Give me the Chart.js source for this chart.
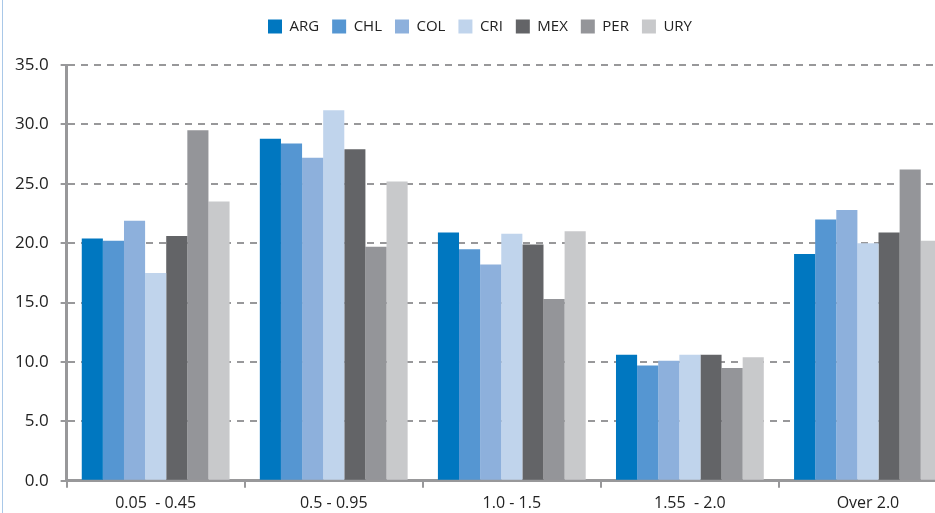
<!DOCTYPE html>
<html>
<head>
<meta charset="utf-8">
<script src="https://cdn.jsdelivr.net/npm/chart.js@4.4.1/dist/chart.umd.min.js"></script>
<style>
  html, body { margin: 0; padding: 0; background: #fff; overflow: hidden; }
  #wrap { position: relative; width: 960px; height: 519px; }
  #frame { position: absolute; left: 2px; top: 0; width: 1px; height: 519px; background: #a9c8e8; }
</style>
</head>
<body>
<div id="wrap">
  <div id="frame"></div>
  <canvas id="chart"></canvas>
</div>
<script>
// Categorías (rangos) y series por país
const categorias = ['0.05  - 0.45', '0.5 - 0.95', '1.0 - 1.5', '1.55  - 2.0', 'Over 2.0'];
const paises = ['ARG', 'CHL', 'COL', 'CRI', 'MEX', 'PER', 'URY'];
const colores = ['#0077c0', '#5596d2', '#8db0dc', '#c0d4ec', '#636467', '#949599', '#c8c9cb'];

const ARG = [20.4, 28.8, 20.9, 10.6, 19.1];
const CHL = [20.2, 28.4, 19.5, 9.7, 22.0];
const COL = [21.9, 27.2, 18.2, 10.1, 22.8];
const CRI = [17.5, 31.2, 20.8, 10.6, 20.0];
const MEX = [20.6, 27.9, 19.9, 10.6, 20.9];
const PER = [29.5, 19.7, 15.3, 9.5, 26.2];
const URY = [23.5, 25.2, 21.0, 10.4, 20.2];

const yTicks = [0, 5, 10, 15, 20, 25, 30, 35];

const series = [ARG, CHL, COL, CRI, MEX, PER, URY];

const FONT = '"Open Sans", sans-serif';
const GRIS = '#98989a';

// separa la leyenda del área del gráfico
const legendSpace = {
  id: 'legendSpace',
  beforeInit(chart) {
    const origFit = chart.legend.fit;
    chart.legend.fit = function () {
      origFit.bind(chart.legend)();
      this.height += 21;
    };
  }
};

new Chart(document.getElementById('chart'), {
  type: 'bar',
  data: {
    labels: categorias,
    datasets: series.map((data, i) => ({
      label: paises[i],
      data,
      backgroundColor: colores[i],
      borderWidth: 0,
      barPercentage: 1,
      categoryPercentage: 0.83
    }))
  },
  options: {
    responsive: true,
    maintainAspectRatio: false,
    animation: false,
    layout: { padding: { left: 3, right: 3, top: 6, bottom: 0 } },
    plugins: {
      legend: {
        position: 'top',
        labels: {
          boxWidth: 14,
          boxHeight: 14,
          padding: 13,
          color: '#222',
          font: { family: FONT, size: 15 }
        }
      },
      tooltip: { enabled: false }
    },
    scales: {
      y: {
        min: 0,
        max: 35,
        afterBuildTicks: (axis) => { axis.ticks = yTicks.map(v => ({ value: v })); },
        ticks: {
          color: '#222',
          font: { family: FONT, size: 17 },
          padding: 12,
          callback: (v) => Number(v).toFixed(1)
        },
        grid: {
          color: GRIS,
          lineWidth: 2,
          tickLength: 6,
          tickColor: GRIS,
          tickBorderDash: []
        },
        border: { display: true, color: GRIS, width: 3, dash: [7, 6] }
      },
      x: {
        ticks: {
          color: '#222',
          font: { family: FONT, size: 16 },
          padding: 6
        },
        grid: {
          offset: true,
          drawOnChartArea: false,
          drawTicks: true,
          tickLength: 7,
          color: GRIS,
          lineWidth: 2
        },
        border: { display: true, color: GRIS, width: 3 }
      }
    }
  },
  plugins: [legendSpace]
});
</script>
</body>
</html>
